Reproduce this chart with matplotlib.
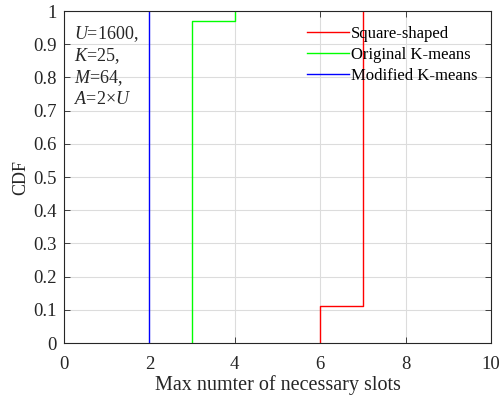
import matplotlib.pyplot as plt

plt.rcParams['font.family'] = 'Liberation Serif'
plt.rcParams['mathtext.fontset'] = 'custom'
plt.rcParams['mathtext.rm'] = 'Liberation Serif'
plt.rcParams['mathtext.it'] = 'Liberation Serif:italic'

# step CDFs: slot values and cumulative probability
square_x = [6, 6, 7]
square_cdf = [0, 0.11, 1]
orig_x = [3, 3, 4]
orig_cdf = [0, 0.97, 1]
mod_x = [2, 2]
mod_cdf = [0, 1]

labels = ['Square-shaped', 'Original K-means', 'Modified K-means']
colors = ['#ff0000', '#00ff00', '#0000ff']
params = ['$U$=1600,', '$K$=25,', '$M$=64,', '$A$=2×$U$']

fig = plt.figure(figsize=(5.04, 3.97), dpi=100)
ax = fig.add_axes([0.127, 0.136, 0.847, 0.836])

ax.step(square_x, square_cdf, where='post', color=colors[0], lw=1, label=labels[0])
ax.step(orig_x, orig_cdf, where='post', color=colors[1], lw=1, label=labels[1])
ax.step(mod_x, mod_cdf, where='post', color=colors[2], lw=1, label=labels[2])

ax.set_xlim(0, 10)
ax.set_ylim(0, 1)
ax.set_xticks([0, 2, 4, 6, 8, 10])
ax.set_yticks([i / 10 for i in range(11)])
ax.set_yticklabels(['0', '0.1', '0.2', '0.3', '0.4', '0.5', '0.6', '0.7', '0.8', '0.9', '1'])
ax.grid(True, color='#dcdcdc', lw=0.8)
ax.set_axisbelow(True)
ax.tick_params(direction='in', top=True, right=True, labelsize=13.5, colors='#262626',
               length=4, width=0.6)
ax.tick_params(axis='x', pad=9)
ax.tick_params(axis='y', pad=5)
for s in ax.spines.values():
    s.set_color('#262626')
    s.set_linewidth(0.8)

ax.set_xlabel('Max numter of necessary slots', fontsize=14.5, color='#262626', labelpad=2)
ax.set_ylabel('CDF', fontsize=13, color='#262626', labelpad=3)

for i, p in enumerate(params):
    ax.text(0.024, 0.932 - i * 0.0665, p, transform=ax.transAxes, fontsize=13,
            va='center', ha='left', color='#262626')

ax.legend(loc='upper right', bbox_to_anchor=(1.0, 0.995), frameon=False, fontsize=12,
          handlelength=2.5, handletextpad=0.15, labelspacing=0.3, borderaxespad=0.4)

fig.savefig('out.png', dpi=100)
